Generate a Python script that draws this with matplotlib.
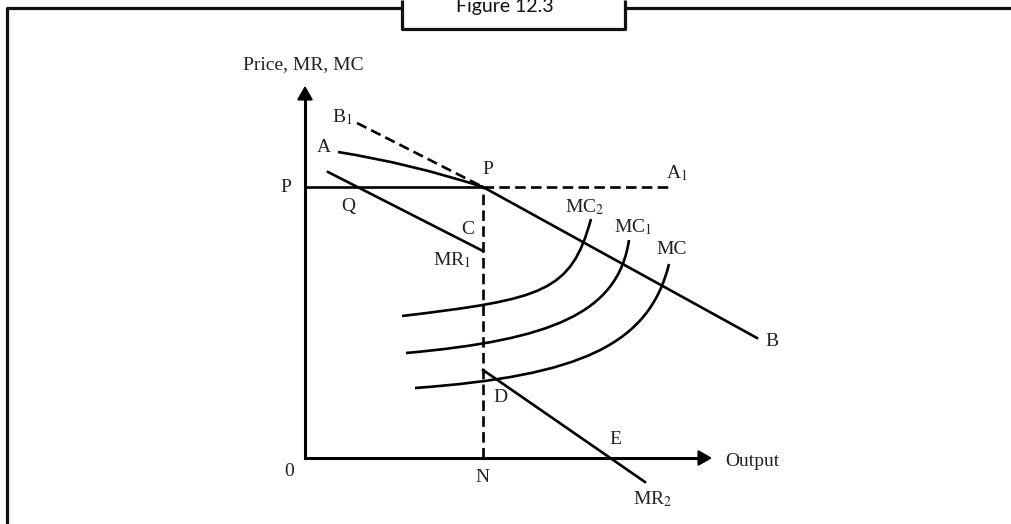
import numpy as np
import matplotlib
matplotlib.use('Agg')
import matplotlib.pyplot as plt
from matplotlib.lines import Line2D
from matplotlib.path import Path
from matplotlib.patches import PathPatch

plt.rcParams['font.family'] = ['Liberation Serif', 'DejaVu Serif']
plt.rcParams['mathtext.fontset'] = 'stix'

# kinked demand curve : values (output, price)
p_point = (17.8, 27.1)
# AP is slightly bowed : start, bezier control, end
demand_a_x = [3.3, 10.55, 17.8]
demand_a_y = [30.6, 29.45, 27.1]
demand_b_x = [17.8, 45.2]
demand_b_y = [27.1, 12.0]
b1_x = [5.2, 17.8]
b1_y = [33.5, 27.1]

mr1_x = [2.3, 17.8]
mr1_y = [28.6, 20.7]
mr2_x = [17.8, 34.0]
mr2_y = [8.8, -2.4]

price_line_end = 36.5

# marginal cost curves (cubic bezier : start, ctrl1, ctrl2, end)
mc2_x = [9.7, 23.9, 26.6, 28.6]
mc2_y = [14.2, 15.9, 16.6, 23.9]
mc1_x = [10.1, 24.6, 31.3, 32.4]
mc1_y = [10.5, 11.8, 14.45, 21.8]
mc_x = [11.0, 27.5, 34.4, 36.4]
mc_y = [7.0, 8.2, 11.3, 19.4]

axis_x_end = 41.0
axis_y_end = 37.5

labels = [
    ('Price, MR, MC', -0.15, 39.3),
    ('B$_1$', 3.7, 34.1),
    ('A', 1.9, 31.0),
    ('P', -1.9, 27.0),
    ('Q', 4.3, 25.2),
    ('P', 18.3, 28.8),
    ('A$_1$', 37.2, 28.5),
    ('C', 16.3, 22.9),
    ('MR$_1$', 14.7, 19.8),
    ('MC$_2$', 28.0, 25.1),
    ('MC$_1$', 32.8, 23.1),
    ('MC', 36.7, 20.8),
    ('B', 46.7, 11.6),
    ('D', 19.5, 6.1),
    ('E', 31.0, 1.9),
    ('0', -1.6, -1.4),
    ('N', 17.7, -1.9),
    ('MR$_2$', 34.8, -4.1),
]

W, H = 1011, 524
fig = plt.figure(figsize=(W / 100, H / 100), dpi=100)
ax = fig.add_axes([0, 0, 1, 1])
ax.set_xlim(-30.5, 70.6)
ax.set_ylim(-6.6, 45.8)
ax.axis('off')

lw = 1.9
dash = (0, (4, 2))

# axes with arrows
ax.plot([0, 0], [0, axis_y_end - 0.8], color='black', lw=2.2)
ax.plot([0, axis_x_end - 0.8], [0, 0], color='black', lw=2.2)
ax.annotate('', xy=(0, axis_y_end), xytext=(0, axis_y_end - 1.2),
            arrowprops=dict(arrowstyle='-|>,head_length=0.42,head_width=0.24',
                            mutation_scale=20, color='black', lw=1.5))
ax.annotate('', xy=(axis_x_end, 0), xytext=(axis_x_end - 1.2, 0),
            arrowprops=dict(arrowstyle='-|>,head_length=0.42,head_width=0.24',
                            mutation_scale=20, color='black', lw=1.5))

# price line through P
ax.plot([0, p_point[0]], [p_point[1], p_point[1]], color='black', lw=lw)
ax.plot([p_point[0], price_line_end], [p_point[1], p_point[1]], color='black', lw=lw, linestyle=dash)
ax.plot([p_point[0], p_point[0]], [0, p_point[1]], color='black', lw=lw, linestyle=dash)

a_path = Path(list(zip(demand_a_x, demand_a_y)), [Path.MOVETO, Path.CURVE3, Path.CURVE3])
ax.add_patch(PathPatch(a_path, fill=False, edgecolor='black', lw=lw))
ax.plot(demand_b_x, demand_b_y, color='black', lw=lw)
ax.plot(b1_x, b1_y, color='black', lw=lw, linestyle=dash)
ax.plot(mr1_x, mr1_y, color='black', lw=lw)
ax.plot(mr2_x, mr2_y, color='black', lw=lw)

for xs, ys in [(mc2_x, mc2_y), (mc1_x, mc1_y), (mc_x, mc_y)]:
    path = Path(list(zip(xs, ys)), [Path.MOVETO, Path.CURVE4, Path.CURVE4, Path.CURVE4])
    ax.add_patch(PathPatch(path, fill=False, edgecolor='black', lw=lw, capstyle='butt'))

for txt, x, y in labels:
    ax.text(x, y, txt, fontsize=14, ha='center', va='center', color='#222222')
ax.text(42.0, -0.4, 'Output', fontsize=14, ha='left', va='center', color='#222222')

# frame with title tab
def px_line(xs, ys, lw=2.3):
    fig.add_artist(Line2D([x / W for x in xs], [1 - y / H for y in ys],
                          transform=fig.transFigure, color='#111111', lw=lw,
                          solid_capstyle='butt'))

px_line([6.5, 6.5, 402], [524, 7.5, 7.5])
px_line([625, 1011], [7.5, 7.5])
px_line([402, 402, 625, 625], [0, 29, 29, 0])
fig.text(505 / W, 1 - 12 / H, 'Figure 12.3', family=['Lato', 'DejaVu Sans'],
         fontsize=14, ha='center', va='baseline', color='#111111')

fig.savefig('out.png', dpi=100)
